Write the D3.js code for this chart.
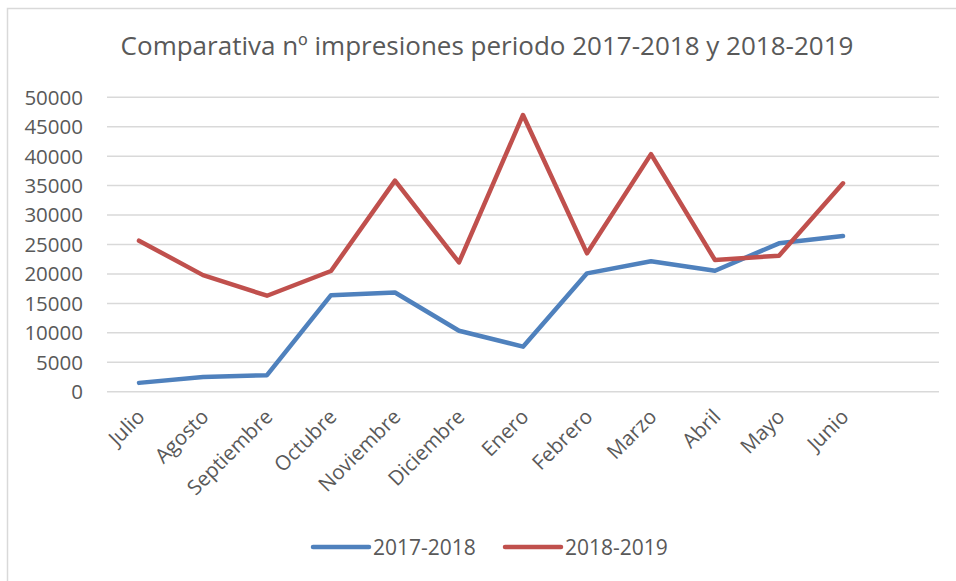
<!DOCTYPE html>
<html><head><meta charset="utf-8">
<script src="https://cdn.jsdelivr.net/npm/d3@7"></script>
<style>body{margin:0;background:#fff}text{font-family:"Open Sans",sans-serif;fill:#595959}</style>
</head><body><svg id="c" width="956" height="581"></svg>
<script>
const months = ["Julio","Agosto","Septiembre","Octubre","Noviembre","Diciembre","Enero","Febrero","Marzo","Abril","Mayo","Junio"];
const s1718 = [1500,2500,2800,16400,16850,10350,7650,20100,22150,20550,25200,26450];
const s1819 = [25650,19800,16300,20500,35850,21950,47000,23500,40350,22350,23100,35400];
const seriesNames = ["2017-2018","2018-2019"];
const yTicks = [0,5000,10000,15000,20000,25000,30000,35000,40000,45000,50000];
const colors = ["#4f81bd","#c0504d"];

(function(){
const svg = d3.select("#c");
svg.append("rect").attr("x",7.5).attr("y",8.5).attr("width",1000).attr("height",1000)
  .attr("fill","none").attr("stroke","#d9d9d9").attr("stroke-width",1.5);

const pL = 107, pR = 939, pT = 97.3, pB = 391.7;
const slots = months.length + 1;
const x = d3.scaleBand().domain(months).range([pL, pL + (pR-pL)*months.length/slots]);
const y = d3.scaleLinear().domain([0,50000]).range([pB, pT]);

svg.append("text").attr("x",487).attr("y",55).attr("text-anchor","middle")
  .style("font-size","26px").text("Comparativa nº impresiones periodo 2017-2018 y 2018-2019");

svg.append("g").selectAll("line").data(yTicks).join("line")
  .attr("x1",pL).attr("x2",pR).attr("y1",d=>y(d)).attr("y2",d=>y(d))
  .attr("stroke","#d9d9d9").attr("stroke-width",1.5);

svg.append("g").selectAll("text").data(yTicks).join("text")
  .attr("x",83).attr("y",d=>y(d)).attr("dy","0.36em").attr("text-anchor","end")
  .style("font-size","20.5px").text(d=>d);

const xc = d => x(d) + x.bandwidth()/2;
svg.append("g").selectAll("text").data(months).join("text")
  .attr("text-anchor","end")
  .attr("transform",d=>`translate(${xc(d)+7},${418}) rotate(-45)`)
  .style("font-size","20.5px").text(d=>d);

const line = d3.line().x((d,i)=>xc(months[i])).y(d=>y(d));
[s1718,s1819].forEach((s,k)=>{
  svg.append("path").datum(s).attr("d",line).attr("fill","none")
    .attr("stroke",colors[k]).attr("stroke-width",4.5)
    .attr("stroke-linejoin","round").attr("stroke-linecap","round");
});

const legX = [313,505];
seriesNames.forEach((n,k)=>{
  svg.append("line").attr("x1",legX[k]).attr("x2",legX[k]+56).attr("y1",547).attr("y2",547)
    .attr("stroke",colors[k]).attr("stroke-width",4.5).attr("stroke-linecap","round");
  svg.append("text").attr("x",legX[k]+60).attr("y",547).attr("dy","0.36em")
    .style("font-size","21px").text(n);
});
})();
</script></body></html>
